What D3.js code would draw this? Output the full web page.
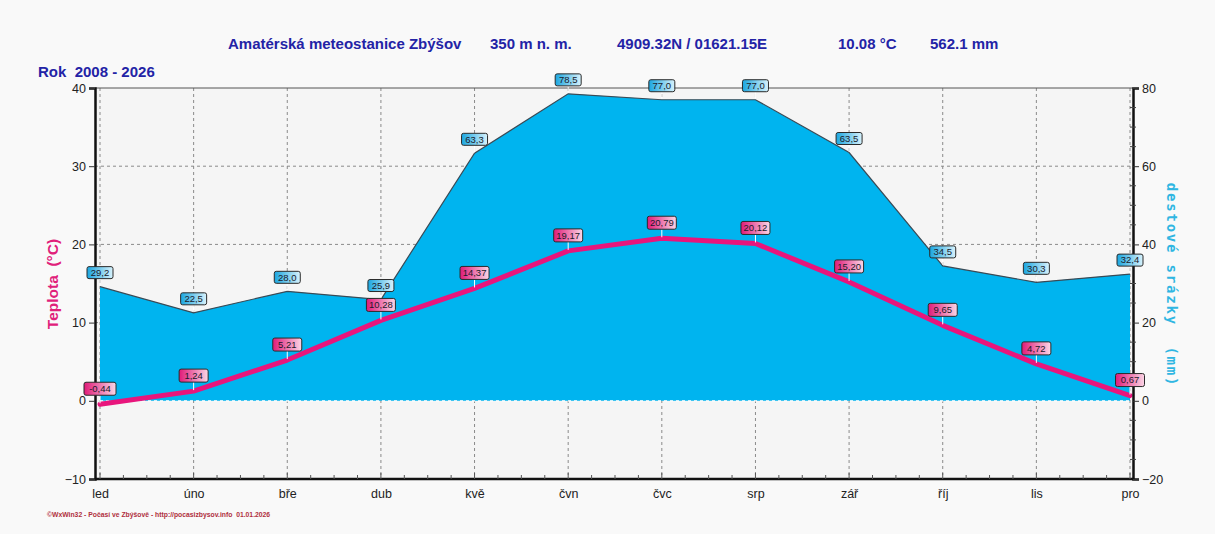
<!DOCTYPE html>
<html><head><meta charset="utf-8">
<script src="https://cdn.jsdelivr.net/npm/d3@7"></script>
<style>
html,body{margin:0;padding:0;background:#f9f9f9;}
svg{display:block;}
</style></head>
<body>
<svg id="chart" width="1215" height="534"></svg>
<script>
const months = ["led","úno","bře","dub","kvě","čvn","čvc","srp","zář","říj","lis","pro"];
const temperature = [-0.44, 1.24, 5.21, 10.28, 14.37, 19.17, 20.79, 20.12, 15.20, 9.65, 4.72, 0.67];
const precipitation = [29.2, 22.5, 28.0, 25.9, 63.3, 78.5, 77.0, 77.0, 63.5, 34.5, 30.3, 32.4];
const tempTicks = [-10, 0, 10, 20, 30, 40];
const precTicks = [-20, 0, 20, 40, 60, 80];
const titleParts = ["Amatérská meteostanice Zbýšov", "350 m n. m.", "4909.32N / 01621.15E", "10.08 °C", "562.1 mm"];
const yearLabel = "Rok  2008 - 2026";
const leftTitle = "Teplota  (°C)";
const rightTitle = "destové srázky  (mm)";
const footer = "©WxWin32 - Počasí ve Zbýšově - http://pocasizbysov.info  01.01.2026";

const svg = d3.select("#chart");
const L = 95, R = 1133, T = 88, B = 479;
const x = d3.scalePoint().domain(months).range([100, 1130]);
const yT = d3.scaleLinear().domain([-10, 40]).range([B, T]);
const yP = d3.scaleLinear().domain([-20, 80]).range([B, T]);

const defs = svg.append("defs");
function grad(id, c1, c2){
  const g = defs.append("linearGradient").attr("id", id).attr("x1","0").attr("x2","1").attr("y1","0").attr("y2","0");
  g.append("stop").attr("offset","0").attr("stop-color",c1);
  g.append("stop").attr("offset","1").attr("stop-color",c2);
}
grad("gBlue", "#1aa6e0", "#d8f2fc");
grad("gPink", "#e01a78", "#fbd6e6");

// plot background
svg.append("rect").attr("x", L).attr("y", T).attr("width", R - L).attr("height", B - T).attr("fill", "#f5f5f5");

// grid
const grid = svg.append("g").attr("stroke", "#8a8a8a").attr("stroke-dasharray", "3,3").attr("stroke-width", 1);
grid.selectAll("line.v").data(months).join("line")
  .attr("x1", d => x(d)).attr("x2", d => x(d)).attr("y1", T).attr("y2", B);
grid.selectAll("line.h").data([10, 20, 30]).join("line")
  .attr("x1", L).attr("x2", R).attr("y1", d => yT(d)).attr("y2", d => yT(d));

// precipitation area
const area = d3.area().x((d, i) => x(months[i])).y0(yP(0)).y1(d => yP(d));
svg.append("path").datum(precipitation).attr("d", area).attr("fill", "#00b4ef");
const pline = d3.line().x((d, i) => x(months[i])).y(d => yP(d));
svg.append("path").datum(precipitation).attr("d", pline).attr("fill", "none").attr("stroke", "#3a4a55").attr("stroke-width", 1.2);
// zero line
svg.append("line").attr("x1", x(months[0])).attr("x2", x(months[11])).attr("y1", yT(0)).attr("y2", yT(0))
  .attr("stroke", "#ffffff").attr("stroke-dasharray", "3,3").attr("stroke-width", 1.2);

// temperature line
const tline = d3.line().x((d, i) => x(months[i])).y(d => yT(d));
svg.append("path").datum(temperature).attr("d", tline).attr("fill", "none")
  .attr("stroke", "#e8157c").attr("stroke-width", 5).attr("stroke-linejoin", "round").attr("stroke-linecap", "round");

// frame / axes
svg.append("line").attr("x1", L).attr("x2", R).attr("y1", T).attr("y2", T).attr("stroke", "#555").attr("stroke-width", 1);
const axL = svg.append("g").attr("transform", `translate(${L},0)`)
  .call(d3.axisLeft(yT).tickValues(tempTicks).tickSize(6).tickPadding(3));
const axR = svg.append("g").attr("transform", `translate(${R},0)`)
  .call(d3.axisRight(yP).tickValues(precTicks).tickSize(6).tickPadding(3));
const axB = svg.append("g").attr("transform", `translate(0,${B})`)
  .call(d3.axisBottom(x).tickSize(0).tickPadding(10));
[axL, axR, axB].forEach(a => {
  a.select(".domain").attr("stroke", "#111").attr("stroke-width", 2.5);
  a.selectAll("text").attr("font-family", "Arial, 'Liberation Sans', sans-serif").attr("font-size", 12.5).attr("fill", "#222");
  a.selectAll(".tick line").attr("stroke", "#333");
});
axB.select(".domain").attr("d", `M${L},0H${R}`);
// minor ticks right axis
svg.append("g").attr("stroke", "#444").selectAll("line").data(d3.range(-20, 81, 5).filter(v => v % 20 !== 0)).join("line")
  .attr("x1", R - 3).attr("x2", R + 3).attr("y1", d => yP(d)).attr("y2", d => yP(d));
// minor ticks bottom axis
const minorX = [];
for (let i = 0; i < 11; i++) for (let k = 1; k < 4; k++) minorX.push(x(months[i]) + k * x.step() / 4);
svg.append("g").attr("stroke", "#555").selectAll("line").data(minorX).join("line")
  .attr("x1", d => d).attr("x2", d => d).attr("y1", B - 4).attr("y2", B);
svg.append("g").attr("stroke", "#555").selectAll("line").data(months).join("line")
  .attr("x1", d => x(d)).attr("x2", d => x(d)).attr("y1", B - 6).attr("y2", B);

// data labels
function labels(data, ys, gid, fmt, w, h, gap){
  const g = svg.append("g");
  data.forEach((v, i) => {
    const cx = x(months[i]), py = ys(v);
    const by = py - gap - h;
    g.append("line").attr("x1", cx).attr("x2", cx).attr("y1", py - 1).attr("y2", by + h).attr("stroke", "#ffffff").attr("stroke-width", 1);
    g.append("rect").attr("x", cx - w(v) / 2).attr("y", by).attr("width", w(v)).attr("height", h)
      .attr("rx", 2).attr("fill", `url(#${gid})`).attr("stroke", "#2a2a2a").attr("stroke-width", 1);
    g.append("text").attr("x", cx).attr("y", by + h / 2 + 3.3).attr("text-anchor", "middle")
      .attr("font-family", "Arial, 'Liberation Sans', sans-serif").attr("font-size", 9.5).attr("fill", "#1a1a2a").text(fmt(v));
  });
}
labels(precipitation, yP, "gBlue", v => v.toFixed(1).replace(".", ","), v => 26, 12, 8);
labels(temperature, yT, "gPink", v => v.toFixed(2).replace(".", ","), v => (v < 0 ? 32 : 29), 13, 9);

// titles
const tx = [228, 490, 617, 838, 930];
svg.append("g").selectAll("text").data(titleParts).join("text")
  .attr("x", (d, i) => tx[i]).attr("y", 49)
  .attr("font-family", "'Liberation Sans Narrow', 'Arial Narrow', Arial, sans-serif").attr("font-weight", "bold")
  .attr("font-size", 15).attr("fill", "#2323a6").text(d => d);
svg.append("text").attr("x", 38).attr("y", 77)
  .attr("font-family", "'Liberation Sans Narrow', 'Arial Narrow', Arial, sans-serif").attr("font-weight", "bold")
  .attr("font-size", 15).attr("fill", "#2323a6").attr("xml:space", "preserve").text(yearLabel);
svg.append("text").attr("transform", "translate(58,284) rotate(-90)").attr("text-anchor", "middle")
  .attr("font-family", "Arial, 'Liberation Sans', sans-serif").attr("font-weight", "bold")
  .attr("font-size", 15.5).attr("fill", "#e0207a").attr("xml:space", "preserve").text(leftTitle);
svg.append("text").attr("transform", "translate(1167,285) rotate(90)").attr("text-anchor", "middle")
  .attr("font-family", "'DejaVu Sans Mono', 'Liberation Mono', monospace").attr("font-weight", "bold")
  .attr("font-size", 14).attr("letter-spacing", 1.8).attr("fill", "#2fb6e2").attr("xml:space", "preserve").text(rightTitle);
svg.append("text").attr("x", 47).attr("y", 517)
  .attr("font-family", "Arial, 'Liberation Sans', sans-serif").attr("font-weight", "bold")
  .attr("font-size", 6.8).attr("fill", "#b03040").attr("xml:space", "preserve").text(footer);
</script>
</body></html>
